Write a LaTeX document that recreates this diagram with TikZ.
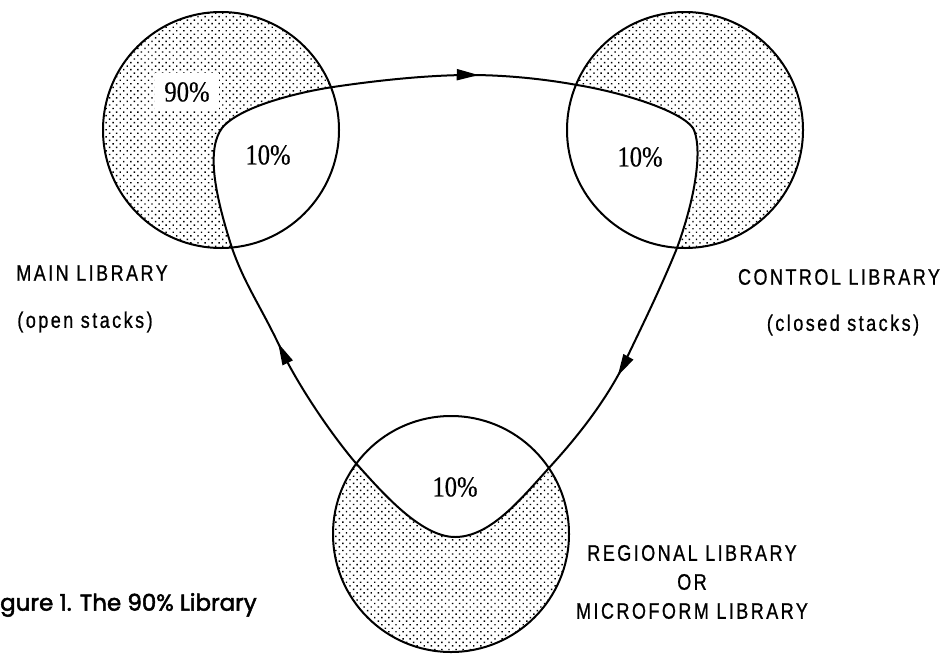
\documentclass[tikz,border=0pt]{standalone}
\usepackage{fontspec}
\usetikzlibrary{patterns.meta,arrows.meta,decorations.markings}
\newfontfamily\labfont[FakeStretch=0.8,LetterSpace=11,FakeBold=0.8]{Liberation Sans}
\newfontfamily\pctfont[FakeStretch=0.85,FakeBold=0.4]{Liberation Serif}
\newfontfamily\capfont[FakeBold=2.2]{Poppins}
\tikzset{
  ring/.style={line width=2pt},
  stipple/.style={pattern={Dots[distance=5pt,angle=45,radius=1pt]}},
  route/.style={line width=2pt},
  flowtip/.style={decoration={markings,
      mark=at position 0.262 with {\arrow{Triangle[length=22pt,width=11pt]}},
      mark=at position 0.59 with {\arrow{Triangle[length=22pt,width=11pt]}},
      mark=at position 0.929 with {\arrow{Triangle[length=22pt,width=11pt]}}},
    postaction={decorate}},
  pct/.style={font=\pctfont\fontsize{29}{32}\selectfont},
  lib/.style={font=\labfont\fontsize{22.5}{29}\selectfont, align=center},
}
\begin{document}
\begin{tikzpicture}[x=1pt,y=-1pt]
  \useasboundingbox (0,0) rectangle (944,653);
  \coordinate (main) at (221,130);
  \coordinate (control) at (685,130);
  \coordinate (regional) at (451,534);
  % shaded discs
  \fill[stipple] (main) circle (118);
  \fill[stipple] (control) circle (118);
  \fill[stipple] (regional) circle (118);
  % the loop
  \draw[route, fill=white, flowtip]
    (232,248) .. controls (215,195) and (206,150) .. (222,128)
    .. controls (240,106) and (300,92) .. (333,87)
    .. controls (380,80) and (430,75) .. (470,75)
    .. controls (510,75) and (550,80) .. (577,85)
    .. controls (620,92) and (680,110) .. (693,128)
    .. controls (702,145) and (698,190) .. (677,248)
    .. controls (660,290) and (640,330) .. (622,368)
    .. controls (600,410) and (570,445) .. (548,469)
    .. controls (520,500) and (490,537) .. (455,537)
    .. controls (420,537) and (380,490) .. (354,461)
    .. controls (320,420) and (290,370) .. (280,347)
    .. controls (260,305) and (245,285) .. (232,248) -- cycle;
  % circle outlines
  \draw[ring] (main) circle (118);
  \draw[ring] (control) circle (118);
  \draw[ring] (regional) circle (118);
  % percentages
  \node[pct, fill=white, inner sep=9pt] (ninety) at (187,92) {90\%};
  \node[pct] (tenmain) at (268,155) {10\%};
  \node[pct] (tencontrol) at (640,157) {10\%};
  \node[pct] (tenregional) at (455,487) {10\%};
  % library names
  \node[lib] (mainname) at (92,273) {MAIN LIBRARY};
  \node[lib] (mainnote) at (85,322) {(open stacks)};
  \node[lib] (controlname) at (839,277) {CONTROL LIBRARY};
  \node[lib] (controlnote) at (843,325) {(closed stacks)};
  \node[lib] (regionalname) at (692,582) {REGIONAL LIBRARY\\OR\\MICROFORM LIBRARY};
  \node[anchor=west, font=\capfont\fontsize{23}{26}\selectfont, inner sep=0pt] (caption) at (0,605) {gure 1. The 90\% Library};
\end{tikzpicture}
\end{document}
